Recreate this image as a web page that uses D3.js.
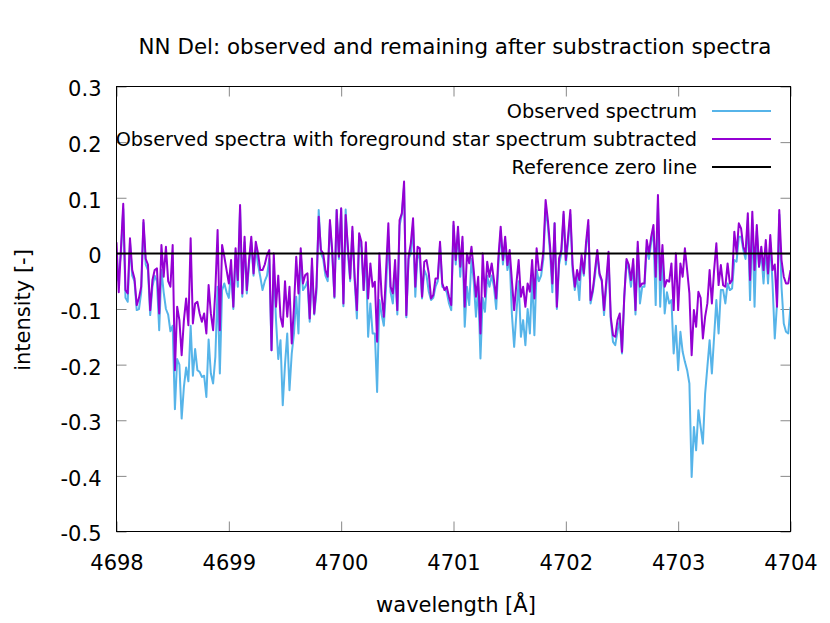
<!DOCTYPE html>
<html><head><meta charset="utf-8">
<script src="https://cdn.jsdelivr.net/npm/d3@7"></script>
<style>
body{margin:0;background:#fff}
svg{display:block}
text{font-family:"DejaVu Sans",sans-serif;fill:#000}
</style>
</head><body>
<svg id="chart" width="830" height="623"></svg>
<script>
// ---- data ----
const titleText = "NN Del: observed and remaining after substraction spectra";
const xLabel = "wavelength [Å]";
const yLabel = "intensity [-]";
const seriesNames = ["Observed spectrum", "Observed spectra with foreground star spectrum subtracted", "Reference zero line"];
const xTicks = [4698, 4699, 4700, 4701, 4702, 4703, 4704];
const yTicks = [0.3, 0.2, 0.1, 0, -0.1, -0.2, -0.3, -0.4, -0.5];
const lambdaStart = 4698;   // first sample, Å
const lambdaStep = 0.02;    // sampling step, Å
const zeroLevel = 0;

const observed = [
 -0.05,-0.036,0.0,0.08,-0.08,-0.087,0.02,-0.04,-0.05,-0.102, -0.1,-0.07,0.055,-0.02,-0.03,-0.111,-0.06,-0.04,-0.05,-0.138,
 -0.03,-0.07,-0.1,-0.11,-0.14,-0.13,-0.28,-0.19,-0.2,-0.297, -0.24,-0.205,-0.23,-0.13,-0.22,-0.172,-0.21,-0.213,-0.222,-0.22,
 -0.258,-0.155,-0.216,-0.234,-0.186,-0.06,-0.216,-0.066,-0.054,-0.07,
 -0.08,-0.03,-0.1,0.0,-0.06,0.08,-0.078,0.02,-0.072,-0.02, 0.02,-0.04,0.01,-0.02,-0.042,-0.066,-0.05,-0.04,-0.01,-0.174,
 -0.02,-0.12,-0.19,-0.156,-0.273,-0.2,-0.144,-0.246,-0.18,-0.144, -0.078,-0.144,0.0,-0.066,-0.06,-0.05,-0.123,-0.02,-0.11,-0.07,
 0.078,0.0,-0.01,-0.04,-0.05,0.055,0.0,-0.08,0.078,-0.01,
 0.08,-0.095,0.079,0.0,-0.05,0.04,-0.05,-0.117,0.03,0.01, -0.066,0.0,-0.15,-0.09,-0.144,-0.144,-0.249,-0.084,-0.11,-0.13,
 -0.06,0.03,-0.07,-0.09,-0.03,-0.11,0.05,0.07,0.12,-0.115, -0.01,0.0,0.05,-0.078,0.0,-0.01,-0.081,-0.03,-0.04,-0.069,
 -0.084,-0.08,-0.06,-0.05,0.015,-0.06,-0.063,-0.07,-0.09,-0.102,
 0.05,-0.02,0.04,-0.042,0.02,-0.132,-0.06,-0.093,-0.01,-0.05, -0.114,-0.06,-0.189,-0.08,-0.105,-0.04,-0.06,-0.04,-0.06,-0.1,
 -0.02,0.04,-0.02,0.02,-0.03,-0.01,-0.11,-0.168,-0.108,-0.05, -0.15,-0.12,-0.165,-0.1,-0.144,-0.04,-0.147,-0.03,-0.05,-0.04,
 -0.01,0.08,0.05,0.0,-0.07,0.054,-0.1,-0.02,0.0,0.07,
 -0.02,0.02,0.07,-0.03,-0.066,-0.04,-0.084,-0.01,-0.04,0.01, 0.05,-0.09,-0.07,-0.04,0.0,-0.04,-0.05,-0.111,-0.06,-0.01,
 -0.12,-0.159,-0.165,-0.14,-0.12,-0.18,-0.08,-0.015,-0.03,-0.06, -0.02,-0.11,0.01,-0.09,-0.06,-0.06,0.01,-0.01,0.02,0.04,
 -0.093,0.09,-0.096,0.0,-0.108,-0.07,-0.09,-0.084,-0.18,-0.13,
 -0.21,-0.141,-0.177,-0.195,-0.21,-0.234,-0.402,-0.312,-0.354,-0.282, -0.312,-0.342,-0.252,-0.204,-0.156,-0.216,-0.15,-0.084,-0.144,-0.066,
 -0.066,-0.09,-0.054,-0.066,-0.063,-0.012,-0.015,0.03,0.03,0.006, -0.01,0.06,-0.084,0.06,-0.096,0.04,-0.024,0.0,-0.054,0.01,
 -0.054,0.02,-0.054,-0.153,-0.09,0.07,-0.06,-0.126,-0.141,-0.144,
 -0.096
];

const subtracted = [
 0.02,-0.07,0.01,0.089,-0.066,-0.072,0.027,-0.03,-0.045,-0.093, -0.08,-0.06,0.06,-0.01,-0.02,-0.102,-0.048,-0.03,-0.027,-0.108,
 0.015,-0.042,0.012,-0.05,-0.06,0.015,-0.21,-0.096,-0.12,-0.183, -0.12,-0.081,-0.129,0.027,-0.126,-0.09,-0.087,-0.108,-0.123,-0.108,
 -0.144,-0.057,-0.108,-0.138,-0.066,0.042,-0.138,0.015,-0.006,-0.03,
 -0.054,-0.012,-0.096,0.009,-0.048,0.087,-0.072,0.03,-0.066,-0.012, 0.03,-0.036,0.021,0.0,-0.03,-0.03,-0.02,-0.003,0.006,-0.174,
 0.0,-0.096,-0.04,-0.114,-0.132,-0.05,-0.114,-0.06,-0.162,-0.096, -0.006,-0.072,0.009,-0.054,-0.039,-0.036,-0.117,-0.009,-0.108,-0.06,
 0.066,0.006,0.0,-0.03,-0.042,0.06,0.006,-0.078,0.078,-0.006,
 0.081,-0.09,0.069,0.012,-0.045,0.048,-0.042,-0.102,0.036,0.021, -0.066,0.02,-0.081,-0.018,-0.06,-0.051,-0.159,0.0,-0.075,-0.114,
 -0.03,0.054,-0.06,-0.072,-0.012,-0.102,0.06,0.072,0.129,-0.111, -0.006,0.018,0.063,-0.06,0.012,0.009,-0.078,-0.015,-0.012,-0.036,
 -0.081,-0.075,-0.045,-0.045,0.021,-0.054,-0.066,-0.06,-0.078,-0.093,
 0.057,-0.012,0.048,-0.024,0.03,-0.096,0.0,-0.018,0.012,-0.03, -0.078,-0.042,-0.144,0.0,-0.078,-0.015,-0.042,-0.018,-0.048,-0.081,
 -0.006,0.048,-0.012,0.03,-0.021,0.006,-0.05,-0.102,-0.054,-0.012, -0.078,-0.06,-0.096,-0.054,-0.069,-0.012,-0.081,0.009,-0.03,-0.03,
 0.003,0.096,0.06,0.012,-0.054,0.054,-0.096,-0.009,0.006,0.075,
 -0.012,0.03,0.078,-0.02,-0.06,-0.03,-0.048,-0.003,-0.036,0.02, 0.06,-0.084,-0.066,-0.03,0.006,-0.036,-0.048,-0.102,-0.05,0.003,
 -0.114,-0.147,-0.15,-0.12,-0.108,-0.177,-0.078,-0.01,-0.02,-0.048, -0.01,-0.102,0.021,-0.06,-0.054,-0.054,0.024,0.0,0.03,0.051,
 -0.042,0.105,-0.048,0.015,-0.06,-0.048,-0.051,-0.018,-0.102,0.0,
 -0.102,-0.018,-0.042,0.009,-0.03,-0.072,-0.183,-0.102,-0.132,-0.069, -0.08,-0.153,-0.114,-0.09,-0.03,-0.09,-0.03,0.018,-0.057,-0.021,
 -0.057,-0.06,-0.018,-0.054,-0.048,0.039,0.0,0.054,0.045,0.012, 0.0,0.072,-0.048,0.075,-0.03,0.051,-0.024,0.012,-0.03,0.024,
 -0.036,0.033,-0.03,-0.02,-0.096,0.078,-0.012,-0.042,-0.054,-0.054,
 -0.03
];

const colors = ["#56b4e9", "#9400d3", "#000000"];

// ---- layout ----
const svg = d3.select("#chart");
const M = {l: 116.5, r: 790.5, t: 86.5, b: 531.5};
const x = d3.scaleLinear().domain([xTicks[0], xTicks[xTicks.length-1]]).range([M.l, M.r]);
const y = d3.scaleLinear().domain([yTicks[yTicks.length-1], yTicks[0]]).range([M.b, M.t]);
const FS = 21;
const FS_LEG = 19.3;

const wl = observed.map((_, i) => lambdaStart + i * lambdaStep);

svg.append("defs").append("clipPath").attr("id","clip")
  .append("rect").attr("x", M.l).attr("y", M.t).attr("width", M.r - M.l).attr("height", M.b - M.t);

// axes (ticks inward, mirrored)
const tickLen = 10;
const fmtY = d => d === 0 ? "0" : d3.format(".1f")(d).replace("−","-");
const axL = svg.append("g").attr("transform", `translate(${M.l},0)`)
  .call(d3.axisLeft(y).tickValues(yTicks).tickSizeInner(-tickLen).tickSizeOuter(0).tickPadding(15).tickFormat(fmtY));
const axR = svg.append("g").attr("transform", `translate(${M.r},0)`)
  .call(d3.axisRight(y).tickValues(yTicks).tickSizeInner(-tickLen).tickSizeOuter(0).tickFormat(""));
const axB = svg.append("g").attr("transform", `translate(0,${M.b})`)
  .call(d3.axisBottom(x).tickValues(xTicks).tickSizeInner(-tickLen).tickSizeOuter(0).tickPadding(23.5).tickFormat(d3.format("d")));
const axT = svg.append("g").attr("transform", `translate(0,${M.t})`)
  .call(d3.axisTop(x).tickValues(xTicks).tickSizeInner(-tickLen).tickSizeOuter(0).tickFormat(""));
[axL, axR, axB, axT].forEach(a => {
  a.select(".domain").remove();
  a.selectAll(".tick line").attr("stroke", "#888").attr("stroke-width", 1);
  a.selectAll("text").attr("font-size", FS).attr("font-family", "DejaVu Sans").attr("fill", "#000");
});
axL.selectAll("text").attr("dy", "0.45em");

// series
const line = d3.line().x((d, i) => x(wl[i])).y(d => y(d));
const plot = svg.append("g").attr("clip-path", "url(#clip)");
plot.append("path").datum(observed).attr("d", line)
  .attr("fill", "none").attr("stroke", colors[0]).attr("stroke-width", 2).attr("stroke-linejoin", "round");
plot.append("path").datum(subtracted).attr("d", line)
  .attr("fill", "none").attr("stroke", colors[1]).attr("stroke-width", 2).attr("stroke-linejoin", "round");
plot.append("line").attr("x1", x(xTicks[0])).attr("x2", x(xTicks[xTicks.length-1]))
  .attr("y1", y(zeroLevel)).attr("y2", y(zeroLevel)).attr("stroke", colors[2]).attr("stroke-width", 2);

// frame
svg.append("rect").attr("x", M.l).attr("y", M.t).attr("width", M.r - M.l).attr("height", M.b - M.t)
  .attr("fill", "none").attr("stroke", "#000").attr("stroke-width", 1);

// legend
const legY = [111, 139, 167];
seriesNames.forEach((name, i) => {
  svg.append("text").attr("x", 697).attr("y", legY[i]).attr("dy", "0.37em")
    .attr("text-anchor", "end").attr("font-size", FS_LEG).text(name);
  svg.append("line").attr("x1", 712).attr("x2", 771).attr("y1", legY[i]).attr("y2", legY[i])
    .attr("stroke", colors[i]).attr("stroke-width", 2);
});

// titles
svg.append("text").attr("x", 455).attr("y", 54).attr("text-anchor", "middle").attr("font-size", 21.4).text(titleText);
svg.append("text").attr("x", 456).attr("y", 612).attr("text-anchor", "middle").attr("font-size", FS).text(xLabel);
svg.append("text").attr("transform", "translate(30,310) rotate(-90)").attr("text-anchor", "middle")
  .attr("font-size", FS).text(yLabel);
</script>
</body></html>
